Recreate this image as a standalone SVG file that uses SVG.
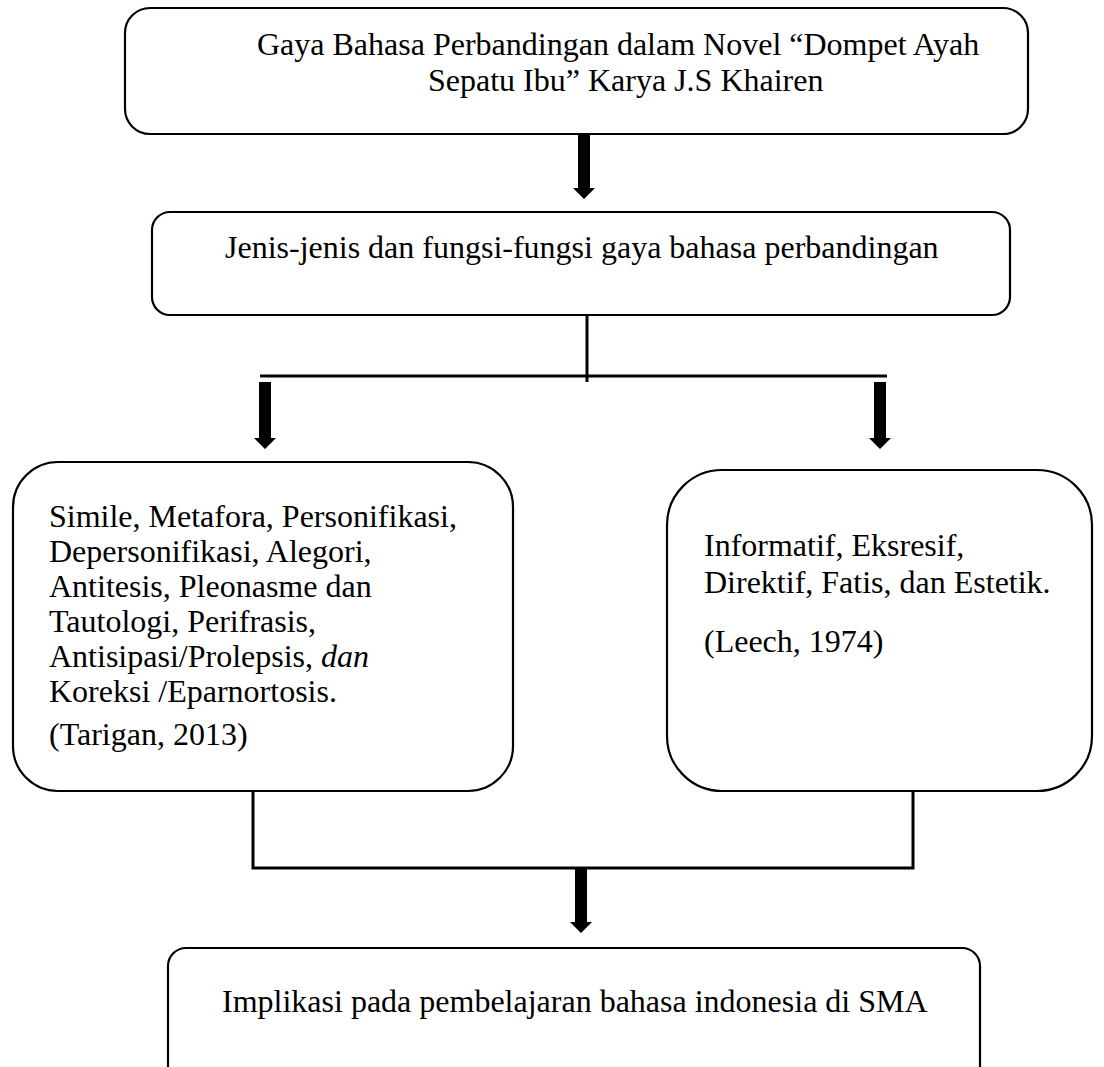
<svg xmlns="http://www.w3.org/2000/svg" width="1104" height="1067" viewBox="0 0 1104 1067">
<style>
.box{fill:#fff;stroke:#000;stroke-width:2.2}
.t{font-family:"Liberation Serif","Times New Roman",serif;font-size:32px;fill:#000}
.ln{fill:none;stroke:#000;stroke-width:3}
.ar{fill:#000;stroke:none}
</style>
<rect width="1104" height="1067" fill="#fff"/>
<g id="connectors">
<polygon class="ar" points="578,134 590,134 590,188 595,188 584,199 573,188 578,188"/>
<line class="ln" x1="587" y1="315" x2="587" y2="382"/>
<line class="ln" x1="260" y1="376" x2="887" y2="376"/>
<polygon class="ar" points="259,382 271,382 271,438 276,438 265,449 254,438 259,438"/>
<polygon class="ar" points="874,382 886,382 886,438 891,438 880,449 869,438 874,438"/>
<polyline class="ln" points="253,791 253,868 913,868 913,791"/>
<polygon class="ar" points="575,868 587,868 587,922 592,922 581,933 570,922 575,922"/>
</g>
<g id="node-title">
<rect class="box" x="125" y="8" width="903" height="126" rx="25"/>
<text class="t" x="257" y="55">Gaya Bahasa Perbandingan dalam Novel “Dompet Ayah</text>
<text class="t" x="428" y="91">Sepatu Ibu” Karya J.S Khairen</text>
</g>
<g id="node-jenis">
<rect class="box" x="152" y="212" width="858" height="103" rx="18"/>
<text class="t" x="225" y="258">Jenis-jenis dan fungsi-fungsi gaya bahasa perbandingan</text>
</g>
<g id="node-jenis-list">
<rect class="box" x="13" y="462" width="500" height="329" rx="45"/>
<text class="t" x="49" y="527">Simile, Metafora, Personifikasi,</text>
<text class="t" x="49" y="562">Depersonifikasi, Alegori,</text>
<text class="t" x="49" y="597">Antitesis, Pleonasme dan</text>
<text class="t" x="49" y="632">Tautologi, Perifrasis,</text>
<text class="t" x="49" y="667">Antisipasi/Prolepsis, <tspan font-style="italic">dan</tspan></text>
<text class="t" x="49" y="702">Koreksi /Eparnortosis.</text>
<text class="t" x="49" y="745">(Tarigan, 2013)</text>
</g>
<g id="node-fungsi-list">
<rect class="box" x="667" y="470" width="425" height="321" rx="55"/>
<text class="t" x="704" y="556">Informatif, Eksresif,</text>
<text class="t" x="704" y="593">Direktif, Fatis, dan Estetik.</text>
<text class="t" x="704" y="652">(Leech, 1974)</text>
</g>
<g id="node-implikasi">
<rect class="box" x="168" y="948" width="812" height="140" rx="18"/>
<text class="t" x="222" y="1012">Implikasi pada pembelajaran bahasa indonesia di SMA</text>
</g>
</svg>
